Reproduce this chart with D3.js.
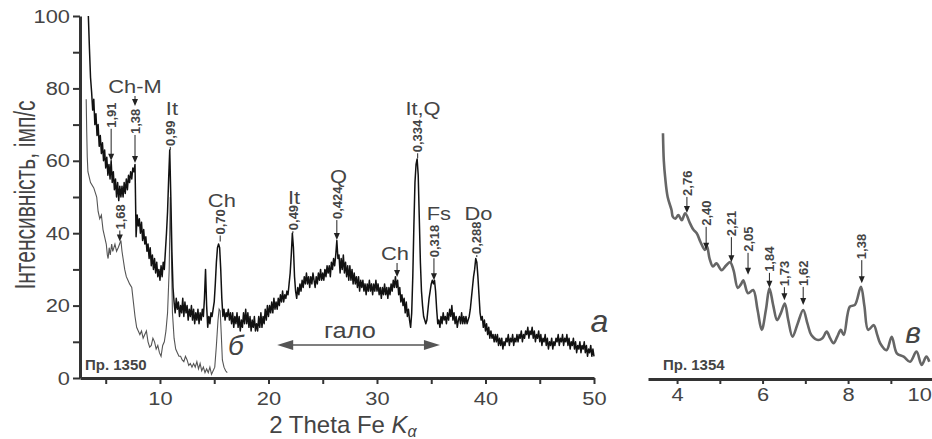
<!DOCTYPE html>
<html>
<head>
<meta charset="utf-8">
<script src="https://cdn.jsdelivr.net/npm/d3@7"></script>
<style>
  body { margin: 0; background: #fff; }
  svg text { font-family: "Liberation Sans", Arial, sans-serif; fill: #444; }
</style>
</head>
<body>
<svg id="chart" width="932" height="439"></svg>
<script>
// sample a (Пр. 1350, upper trace) - scan from 3.4 deg, 0.1 deg step
const scanAStart = 3.4;
const scanAStep = 0.1;
const scanA = [
  100, 91, 83, 79, 74, 77,
  70, 73, 67, 70, 64, 67, 62, 65, 60, 63,
  58, 61, 56, 59, 55, 60, 54, 57, 52, 55,
  50, 54, 49, 53, 50, 53, 50, 54, 51, 55,
  52, 56, 54, 57, 55, 58, 57, 59, 39, 45,
  42, 44, 40, 43, 38, 41, 37, 39, 35, 37,
  33, 36, 31, 34, 30, 33, 29, 32, 28, 30,
  27, 31, 28, 32, 30, 35, 40, 46, 55, 63,
  50, 35, 25, 21, 18, 22, 19, 21, 17, 20,
  18, 22, 17, 21, 18, 20, 16, 19, 17, 20,
  16, 19, 15, 18, 16, 19, 15, 18, 16, 19,
  17, 22, 30, 20, 14, 17, 15, 18, 17, 19,
  21, 26, 32, 36, 37, 36, 30, 22, 17, 19,
  16, 18, 17, 19, 16, 18, 15, 18, 14, 17,
  15, 18, 14, 17, 13, 16, 14, 18, 15, 19,
  15, 18, 14, 17, 13, 16, 14, 17, 13, 15,
  13, 17, 14, 18, 14, 17, 15, 19, 16, 20,
  17, 20, 18, 21, 18, 22, 19, 21, 19, 22,
  20, 23, 21, 24, 21, 23, 22, 24, 23, 26,
  29, 34, 40, 36, 28, 24, 22, 25, 23, 26,
  24, 27, 25, 28, 26, 29, 26, 28, 25, 28,
  26, 29, 27, 25, 28, 26, 29, 27, 30, 27,
  29, 27, 30, 28, 31, 29, 31, 28, 32, 30,
  33, 31, 34, 38, 33, 34, 29, 33, 30, 34,
  29, 32, 28, 31, 27, 31, 27, 30, 26, 29,
  26, 28, 25, 28, 24, 27, 25, 27, 24, 26,
  23, 26, 24, 27, 24, 26, 23, 26, 24, 27,
  24, 26, 23, 25, 22, 25, 23, 26, 23, 25,
  22, 25, 23, 26, 24, 27, 25, 28, 25, 27,
  23, 25, 21, 23, 20, 22, 18, 21, 17, 19,
  16, 14, 18, 28, 42, 54, 59, 60.5, 56, 44,
  32, 24, 20, 17, 16, 15, 16, 19, 22, 24,
  26, 27, 26, 27, 24, 19, 15, 16, 14, 17,
  15, 18, 16, 17, 15, 18, 16, 19, 17, 20,
  16, 18, 15, 17, 14, 16, 17, 15, 18, 15,
  17, 15, 17, 15, 16, 17, 19, 22, 25, 28,
  30, 33, 32, 28, 23, 18, 16, 17, 14, 16,
  13, 15, 12, 14, 11, 13, 11, 12, 10, 12,
  10, 12, 9, 11, 9, 11, 8, 10, 9, 11,
  10, 12, 9, 11, 10, 12, 9, 11, 10, 12,
  10, 12, 11, 13, 10, 12, 11, 13, 12, 14,
  11, 13, 12, 14, 11, 13, 10, 12, 11, 13,
  10, 12, 9, 11, 10, 12, 9, 11, 8, 10,
  9, 11, 8, 10, 9, 11, 10, 12, 9, 11,
  10, 12, 9, 11, 10, 12, 9, 11, 8, 10,
  9, 11, 8, 10, 7, 9, 8, 10, 7, 9,
  8, 10, 7, 9, 6, 8, 7, 9, 6, 8,
  6
];

// sample б (Пр. 1350, lower trace) - [2theta, intensity]
const scanB = [
  [3.2, 77], [3.25, 68], [3.3, 61], [3.36, 57], [3.6, 54], [3.9, 52.5], [4.17, 50],
  [4.3, 46], [4.45, 44], [4.6, 45], [4.75, 41], [4.9, 39], [5.05, 37], [5.15, 34],
  [5.22, 33], [5.32, 36], [5.42, 34], [5.55, 37], [5.65, 35], [5.85, 37], [6.0, 35],
  [6.15, 36], [6.4, 38], [6.5, 35], [6.6, 33], [6.75, 30], [6.9, 28], [7.05, 27],
  [7.2, 26], [7.4, 25], [7.55, 21], [7.7, 17], [7.85, 14], [8.0, 13], [8.15, 12],
  [8.3, 13], [8.45, 11], [8.6, 12], [8.75, 13], [8.9, 10], [9.05, 8.5], [9.2, 9],
  [9.35, 11], [9.5, 10], [9.65, 8], [9.8, 9], [9.95, 7], [10.1, 6], [10.25, 9],
  [10.4, 10], [10.55, 13], [10.7, 18], [10.85, 30], [10.95, 50], [11.05, 35],
  [11.15, 18], [11.3, 11], [11.45, 8], [11.6, 7], [11.75, 6], [11.9, 6], [12.05, 5],
  [12.2, 4.5], [12.35, 6], [12.5, 5], [12.65, 3.5], [12.8, 4], [12.95, 3], [13.1, 4],
  [13.25, 3], [13.4, 4.5], [13.55, 2.5], [13.7, 4], [13.85, 2], [14.0, 3], [14.15, 1.5],
  [14.3, 2.5], [14.45, 1.5], [14.6, 3], [14.75, 1], [14.9, 2], [15.05, 3], [15.2, 9],
  [15.35, 16], [15.45, 19], [15.55, 18.5], [15.65, 12], [15.75, 5], [15.9, 3],
  [16.05, 2], [16.2, 1.5]
];

// sample в (Пр. 1354) - [2theta, intensity]
const scanV = [
  [3.67, 67.6], [3.69, 60], [3.72, 55.6], [3.78, 50], [3.87, 46.4], [3.9, 44.6],
  [3.96, 44], [4.03, 45], [4.11, 43.6], [4.19, 45.5], [4.3, 42.8], [4.38, 41],
  [4.46, 40], [4.55, 37.5], [4.65, 35.4], [4.7, 36.3], [4.76, 33], [4.84, 30.8],
  [4.92, 31.7], [5.04, 29.8], [5.14, 31], [5.24, 32], [5.32, 29.8], [5.42, 24.9],
  [5.5, 26], [5.55, 27], [5.66, 23.4], [5.78, 24.3], [5.88, 19], [5.98, 13.3],
  [6.08, 19], [6.16, 24.8], [6.25, 20], [6.34, 16], [6.43, 18], [6.52, 20.6],
  [6.6, 16], [6.7, 11.4], [6.82, 15], [6.95, 18.8], [7.05, 15], [7.14, 11.9],
  [7.3, 10.5], [7.4, 11], [7.5, 12.8], [7.58, 11], [7.66, 9.6], [7.75, 11.5],
  [7.83, 13.3], [7.9, 11.9], [8.04, 19.7], [8.16, 20.2], [8.3, 25.2], [8.38, 20],
  [8.47, 13.3], [8.6, 14.6], [8.68, 12], [8.75, 9.6], [8.9, 7.7], [9.02, 11.4],
  [9.14, 6.8], [9.3, 5.9], [9.45, 4.5], [9.6, 7.3], [9.72, 3.6], [9.83, 5.9], [9.9, 4.5]
];

// d-spacings marked on the left panel: label, 2theta, intensity at arrow tip
const peaksA = [
  ["1,91", 5.5, 60], ["1,38", 7.7, 59.4], ["1,68", 6.3, 37.7], ["0,99", 10.95, 63],
  ["0,70", 15.55, 37.7], ["0,49", 22.25, 40], ["0,424", 26.3, 38.1],
  ["0,334", 33.75, 60.7], ["0,318", 35.25, 27], ["0,288", 39.2, 33.4]
];
// d-spacings on the right panel
const peaksV = [
  ["2,76", 4.23, 45.6], ["2,40", 4.68, 35.4], ["2,21", 5.27, 32], ["2,05", 5.66, 28.5],
  ["1,84", 6.16, 24.9], ["1,73", 6.51, 21.5], ["1,62", 6.95, 20.2], ["1,38", 8.32, 26.2]
];
// mineral names: label, 2theta, intensity (baseline)
const minerals = [
  ["Ch-M", 7.7, 78.7], ["It", 11.1, 72.6], ["Ch", 15.7, 47.2], ["It", 22.35, 48],
  ["Q", 26.45, 53.9], ["Ch", 31.66, 32.6], ["It,Q", 34.24, 72.6], ["Fs", 35.7, 43.6],
  ["Do", 39.35, 43.6]
];

const yTicks = [0, 10, 20, 30, 40, 50, 60, 70, 80, 90, 100];
const xTicksA = [5, 10, 15, 20, 25, 30, 35, 40, 45, 50];
const xTicksV = [4, 5, 6, 7, 8, 9, 10];

// layout bits (pixel gaps between arrow tip and label)
const stemA = [32, 28, 11, 3, 6, 2, 20, 5, 22, 2];
const stemV = [16, 23, 25, 22, 15, 13, 18, 23];
const arrowA = [true, true, true, false, false, false, true, false, true, false];

const svg = d3.select('#chart');
const WIDE = 'scale(1.15,1)'; // the print has slightly stretched lettering

const xA = d3.scaleLinear().domain([2.63, 50]).range([80, 594]);
const yI = d3.scaleLinear().domain([0, 100]).range([378, 16]);
const xV = d3.scaleLinear().domain([3.32, 10]).range([648, 933.6]);

// ---- axes
function styleAxis(g) {
  g.select('.domain').attr('stroke', '#333').attr('stroke-width', 3);
  g.selectAll('.tick line').attr('stroke', '#333').attr('stroke-width', 2);
  g.selectAll('.tick text').attr('font-size', 19).attr('fill', '#444')
    .style('font-family', '"Liberation Sans", Arial, sans-serif');
}

const gy = svg.append('g').attr('transform', 'translate(80,0)')
  .call(d3.axisLeft(yI).tickValues(yTicks).tickSize(7).tickSizeOuter(0).tickPadding(3)
    .tickFormat(d => d % 20 === 0 ? d : ''));
styleAxis(gy);
gy.selectAll('.tick text').attr('x', null).attr('transform', 'translate(-10,0) ' + WIDE);

const gx = svg.append('g').attr('transform', 'translate(0,378)')
  .call(d3.axisBottom(xA).tickValues(xTicksA).tickSize(6).tickSizeOuter(0).tickPadding(8)
    .tickFormat(d => d % 10 === 0 ? d : ''));
styleAxis(gx);
gx.selectAll('.tick text').attr('transform', WIDE);

const gv = svg.append('g').attr('transform', 'translate(0,379)')
  .call(d3.axisBottom(xV).tickValues(xTicksV).tickSize(5).tickSizeOuter(0).tickPadding(4)
    .tickFormat(d => d % 2 === 0 ? d : ''));
styleAxis(gv);
gv.selectAll('.tick text').attr('transform', WIDE);
gv.selectAll('.tick text').filter(d => d === 10).attr('text-anchor', 'end').attr('dx', -2);

// axis titles
svg.append('text')
  .attr('transform', 'translate(35,195) scale(1.4,1) rotate(-90)')
  .attr('text-anchor', 'middle').attr('font-size', 21)
  .text('Інтенсивність, імп/с');

const xt = svg.append('text').attr('x', 343).attr('y', 433)
  .attr('text-anchor', 'middle').attr('font-size', 24);
xt.append('tspan').text('2 Theta Fe ');
xt.append('tspan').attr('font-style', 'italic').text('K');
xt.append('tspan').attr('font-style', 'italic').attr('font-size', 16).attr('dy', 4).text('α');

// ---- curves
const lineA = d3.line().x(d => xA(d[0])).y(d => yI(d[1]));
const lineV = d3.line().x(d => xV(d[0])).y(d => yI(d[1])).curve(d3.curveCatmullRom);

const pointsA = scanA.map((v, i) => [+(scanAStart + i * scanAStep).toFixed(2), v]);

svg.append('path').datum(scanB)
  .attr('d', lineA).attr('fill', 'none')
  .attr('stroke', '#555').attr('stroke-width', 1.1);

svg.append('path').datum(pointsA)
  .attr('d', lineA).attr('fill', 'none')
  .attr('stroke', '#111').attr('stroke-width', 1.5).attr('stroke-linejoin', 'round');

svg.append('path').datum(scanV)
  .attr('d', lineV).attr('fill', 'none')
  .attr('stroke', '#666').attr('stroke-width', 2.6).attr('stroke-linejoin', 'round');

// ---- peak markers
function marker(px, tip, stem, head, label) {
  const g = svg.append('g');
  if (stem > 0) {
    g.append('line').attr('x1', px).attr('x2', px)
      .attr('y1', tip - stem).attr('y2', tip - (head ? 4 : 0))
      .attr('stroke', '#222').attr('stroke-width', 1);
  }
  if (head) {
    g.append('path')
      .attr('d', `M${px - 3},${tip - 7}L${px + 3},${tip - 7}L${px},${tip}Z`)
      .attr('fill', '#222');
  }
  g.append('text')
    .attr('transform', `translate(${px},${tip - stem - 1}) rotate(-90)`)
    .attr('dy', '0.36em')
    .attr('font-size', 13).attr('font-weight', 'bold').attr('fill', '#222')
    .text(label);
}

peaksA.forEach((p, i) => marker(xA(p[1]), yI(p[2]), stemA[i], arrowA[i], p[0]));
peaksV.forEach((p, i) => marker(xV(p[1]), yI(p[2]), stemV[i], true, p[0]));

// mineral names
svg.selectAll('text.min').data(minerals).enter().append('text')
  .attr('class', 'min')
  .attr('transform', d => `translate(${xA(d[1])},${yI(d[2])}) ${WIDE}`)
  .attr('text-anchor', 'middle').attr('font-size', 19).attr('fill', '#333')
  .text(d => d[0]);

// small arrows under Ch-M and the second Ch
[[7.7, 96, 106], [31.85, 263, 277]].forEach(a => {
  const px = xA(a[0]);
  svg.append('line').attr('x1', px).attr('x2', px).attr('y1', a[1]).attr('y2', a[2] - 4)
    .attr('stroke', '#222').attr('stroke-width', 1);
  svg.append('path').attr('d', `M${px - 3},${a[2] - 7}L${px + 3},${a[2] - 7}L${px},${a[2]}Z`)
    .attr('fill', '#222');
});

// halo double arrow
const haloY = yI(9.1);
const h0 = xA(20.8), h1 = xA(35.8);
svg.append('line').attr('x1', h0 + 10).attr('x2', h1 - 10).attr('y1', haloY).attr('y2', haloY)
  .attr('stroke', '#555').attr('stroke-width', 1.6);
svg.append('path').attr('d', `M${h0},${haloY}L${h0 + 16},${haloY - 5}L${h0 + 16},${haloY + 5}Z`).attr('fill', '#555');
svg.append('path').attr('d', `M${h1},${haloY}L${h1 - 16},${haloY - 5}L${h1 - 16},${haloY + 5}Z`).attr('fill', '#555');
svg.append('text').attr('transform', `translate(${xA(27.5)},${yI(11)}) ${WIDE}`)
  .attr('text-anchor', 'middle')
  .attr('font-size', 22).attr('fill', '#444').text('гало');

// curve letters
svg.append('text').attr('x', xA(50.5)).attr('y', 332).attr('text-anchor', 'middle')
  .attr('font-size', 32).attr('font-style', 'italic').attr('fill', '#444').text('а');
svg.append('text').attr('x', xA(17.0)).attr('y', 355).attr('text-anchor', 'middle')
  .attr('font-size', 28).attr('font-style', 'italic').attr('fill', '#444').text('б');
svg.append('text').attr('x', xV(9.52)).attr('y', 343).attr('text-anchor', 'middle')
  .attr('font-size', 30).attr('font-style', 'italic').attr('fill', '#444').text('в');

// sample numbers
svg.append('text').attr('x', 85).attr('y', 370).attr('font-size', 15).attr('font-weight', 'bold')
  .attr('fill', '#333').text('Пр. 1350');
svg.append('text').attr('x', 663).attr('y', 370).attr('font-size', 15).attr('font-weight', 'bold')
  .attr('fill', '#333').text('Пр. 1354');
</script>
</body>
</html>
